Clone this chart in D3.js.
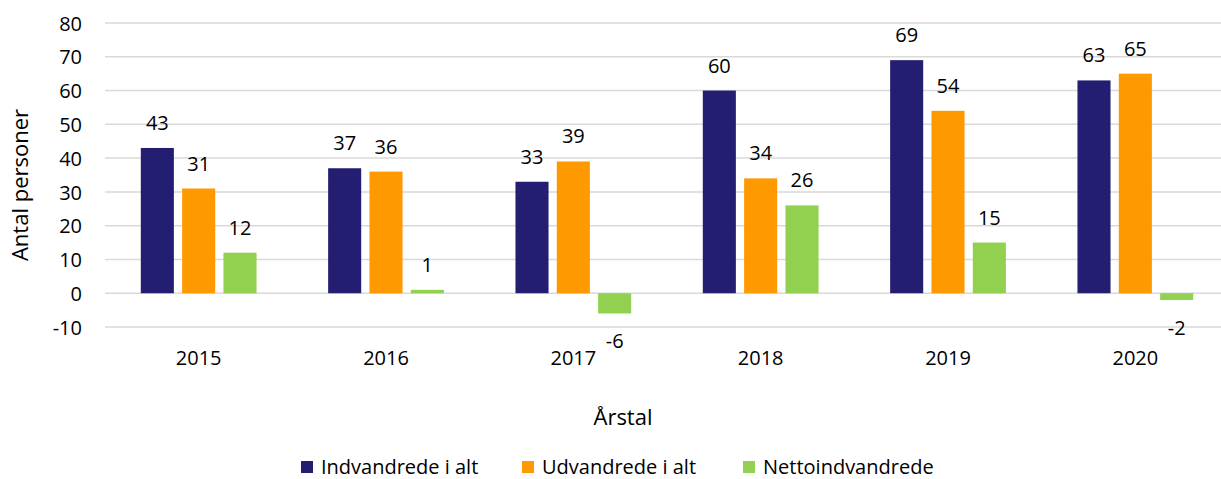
<!DOCTYPE html>
<html>
<head>
<meta charset="utf-8">
<script src="https://cdn.jsdelivr.net/npm/d3@7"></script>
<style>
  html, body { margin: 0; padding: 0; background: #fff; }
  svg { display: block; font-family: "Open Sans", "Noto Sans", sans-serif; }
</style>
</head>
<body>
<div id="chart"></div>
<script>
// Data
const years = ['2015', '2016', '2017', '2018', '2019', '2020'];
const seriesNames = ['Indvandrede i alt', 'Udvandrede i alt', 'Nettoindvandrede'];
const indvandrede = [43, 37, 33, 60, 69, 63];
const udvandrede  = [31, 36, 39, 34, 54, 65];
const netto       = [12, 1, -6, 26, 15, -2];
const yTicks = [-10, 0, 10, 20, 30, 40, 50, 60, 70, 80];

const COLORS = ['#241e72', '#ff9900', '#92d050'];

const W = 1221, H = 479;
const seriesValues = [indvandrede, udvandrede, netto];

const svg = d3.select('#chart').append('svg').attr('width', W).attr('height', H);

// Scales (the plot runs a little past the right edge, as in the reference)
const x0 = d3.scaleBand().domain(years).range([105, 1229]).paddingInner(0).paddingOuter(0);
const x1 = d3.scaleBand().domain(seriesNames).range([0, 124]).paddingInner(0.2).paddingOuter(0.1);
const groupOffset = (x0.bandwidth() - 124) / 2;
const y = d3.scaleLinear().domain([-10, 80]).range([327, 23]);

// Gridlines
svg.append('g')
  .selectAll('line')
  .data(yTicks)
  .join('line')
  .attr('x1', 105).attr('x2', W)
  .attr('y1', d => y(d)).attr('y2', d => y(d))
  .attr('stroke', '#d9d9d9').attr('stroke-width', 1.5);

// Y axis labels (plain hyphen for negatives, like the original)
const yAxis = svg.append('g')
  .attr('transform', 'translate(82,0)')
  .call(d3.axisLeft(y).tickValues(yTicks).tickSize(0).tickPadding(0).tickFormat(d => String(d)));
yAxis.select('.domain').remove();
yAxis.selectAll('text')
  .attr('fill', '#000').style('font-size', '20px')
  .style('font-family', '"Open Sans", sans-serif')
  .attr('dy', '0.36em');

// X axis labels
const xAxis = svg.append('g')
  .attr('transform', 'translate(0,365)')
  .call(d3.axisBottom(x0).tickSize(0).tickPadding(0));
xAxis.select('.domain').remove();
xAxis.selectAll('text')
  .attr('fill', '#000').style('font-size', '20px')
  .style('font-family', '"Open Sans", sans-serif')
  .attr('y', 0).attr('dy', 0);

// Bars
const rows = [];
years.forEach((yr, i) => {
  seriesNames.forEach((s, j) => rows.push({ year: yr, series: s, j, value: seriesValues[j][i] }));
});

const barX = d => x0(d.year) + groupOffset + x1(d.series);

svg.append('g')
  .selectAll('rect')
  .data(rows)
  .join('rect')
  .attr('x', barX)
  .attr('y', d => y(Math.max(0, d.value)))
  .attr('width', x1.bandwidth())
  .attr('height', d => Math.abs(y(d.value) - y(0)))
  .attr('fill', d => COLORS[d.j]);

// Value labels
svg.append('g')
  .selectAll('text')
  .data(rows)
  .join('text')
  .attr('x', d => barX(d) + x1.bandwidth() / 2)
  .attr('y', d => d.value >= 0 ? y(d.value) - 18 : y(d.value) + 35)
  .attr('text-anchor', 'middle')
  .attr('fill', '#000')
  .style('font-size', '20px')
  .text(d => String(d.value));

// Axis titles
svg.append('text')
  .attr('transform', 'translate(20,185) rotate(-90)')
  .attr('text-anchor', 'middle')
  .attr('dy', '0.35em')
  .style('font-size', '22px')
  .text('Antal personer');

svg.append('text')
  .attr('x', 623).attr('y', 425)
  .attr('text-anchor', 'middle')
  .style('font-size', '22px')
  .text('Årstal');

// Legend
const legendX = [301, 522, 743];
const legend = svg.append('g')
  .selectAll('g')
  .data(seriesNames)
  .join('g')
  .attr('transform', (d, i) => `translate(${legendX[i]},461)`);
legend.append('rect').attr('width', 12).attr('height', 12).attr('fill', (d, i) => COLORS[i]);
legend.append('text')
  .attr('x', 20).attr('y', 6).attr('dy', '0.36em')
  .style('font-size', '20px')
  .text(d => d);
</script>
</body>
</html>
